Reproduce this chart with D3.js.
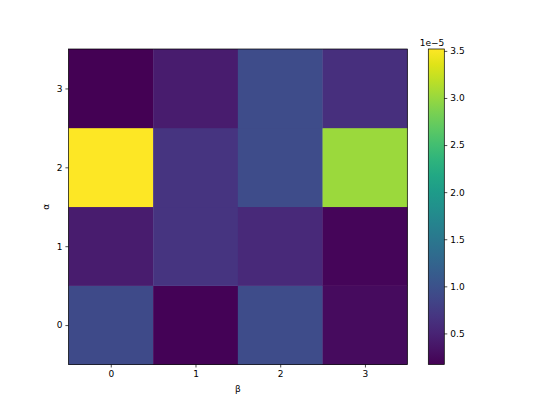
<!DOCTYPE html>
<html><head><meta charset="utf-8">
<script src="https://cdn.jsdelivr.net/npm/d3@7"></script>
<style>body{margin:0;background:#fff}svg text{font-family:"DejaVu Sans",sans-serif;font-size:9px;fill:#000}</style>
</head><body><svg id="c" width="547" height="410"></svg>
<script>
const betaLabels = [0,1,2,3];
const alphaLabels = [0,1,2,3];
// values ×1e-5, rows indexed by alpha (0..3), columns by beta (0..3)
const row0 = [0.92, 0.19, 0.93, 0.27];
const row1 = [0.42, 0.68, 0.55, 0.22];
const row2 = [3.52, 0.68, 0.93, 3.02];
const row3 = [0.17, 0.42, 0.93, 0.62];
const rows = [row0,row1,row2,row3];
const cbTicks = [0.5,1.0,1.5,2.0,2.5,3.0,3.5];
const vmin = 0.17, vmax = 3.52;

const svg = d3.select("#c");
const L=68.4, R=407.3, T=49, B=364.5;
const x = d3.scaleLinear().domain([-0.5,3.5]).range([L,R]);
const y = d3.scaleLinear().domain([-0.5,3.5]).range([B,T]);
const color = v => d3.interpolateViridis((v-vmin)/(vmax-vmin));

const cells = [];
rows.forEach((r,i)=>r.forEach((v,j)=>cells.push({a:alphaLabels[i],b:betaLabels[j],v})));
svg.append("g").selectAll("rect").data(cells).join("rect")
  .attr("x",d=>x(d.b-0.5)).attr("y",d=>y(d.a+0.5))
  .attr("width",d=>x(d.b+0.5)-x(d.b-0.5)+0.3).attr("height",d=>y(d.a-0.5)-y(d.a+0.5)+0.3)
  .attr("fill",d=>color(d.v));
svg.append("rect").attr("x",L).attr("y",T).attr("width",R-L).attr("height",B-T)
  .attr("fill","none").attr("stroke","#000").attr("stroke-width",0.7);

const xa = svg.append("g").attr("transform",`translate(0,${B})`)
  .call(d3.axisBottom(x).tickValues(betaLabels).tickSize(3).tickPadding(3).tickFormat(d3.format("d")));
const ya = svg.append("g").attr("transform",`translate(${L},0)`)
  .call(d3.axisLeft(y).tickValues(alphaLabels).tickSize(3).tickPadding(3).tickFormat(d3.format("d")));
[xa,ya].forEach(g=>{g.select(".domain").remove();g.selectAll("line").attr("stroke","#000").attr("stroke-width",0.7);g.selectAll("text").attr("font-size",null);});
svg.append("text").attr("x",(L+R)/2).attr("y",392).attr("text-anchor","middle").text("β");
svg.append("text").attr("transform",`translate(49,${(T+B)/2}) rotate(-90)`).attr("text-anchor","middle").text("α");

// colorbar
const cL=428.3, cR=444.3;
const cy = d3.scaleLinear().domain([vmin,vmax]).range([B,T]);
const defs = svg.append("defs");
const grad = defs.append("linearGradient").attr("id","vg").attr("x1",0).attr("y1",1).attr("x2",0).attr("y2",0);
d3.range(0,1.0001,0.05).forEach(t=>grad.append("stop").attr("offset",t).attr("stop-color",d3.interpolateViridis(t)));
svg.append("rect").attr("x",cL).attr("y",T).attr("width",cR-cL).attr("height",B-T).attr("fill","url(#vg)")
  .attr("stroke","#000").attr("stroke-width",0.7);
const ca = svg.append("g").attr("transform",`translate(${cR},0)`)
  .call(d3.axisRight(cy).tickValues(cbTicks).tickSize(3).tickPadding(3).tickFormat(d3.format(".1f")));
ca.select(".domain").remove();ca.selectAll("line").attr("stroke","#000").attr("stroke-width",0.7);ca.selectAll("text").attr("font-size",null);
svg.append("text").attr("x",cR).attr("y",T-3).attr("text-anchor","end").text("1e−5");
</script></body></html>
